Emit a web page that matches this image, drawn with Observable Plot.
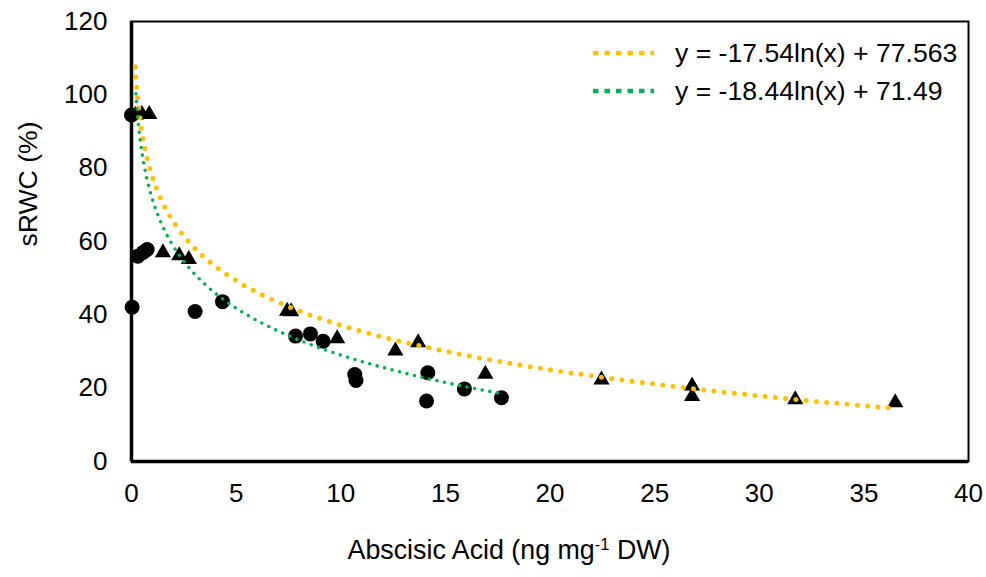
<!DOCTYPE html>
<html>
<head>
<meta charset="utf-8">
<script src="https://cdn.jsdelivr.net/npm/d3@7"></script>
<script src="https://cdn.jsdelivr.net/npm/@observablehq/plot@0.6"></script>
<style>
  body { margin: 0; background: #fff; font-family: "Liberation Sans", Arial, sans-serif; }
  #chart { position: relative; width: 986px; height: 577px; }
  .legend { position: absolute; left: 593px; top: 34px; }
  .legend .row { display: flex; align-items: center; height: 38px; }
  .legend svg { width: 82px; height: 38px; display: block; }
  .legend span { font-size: 26.6px; color: #000; white-space: nowrap; }
</style>
</head>
<body>
<div id="chart"></div>
<script>
// Abscisic acid content (ng mg-1 DW) vs. sRWC (%) for the two groups
const circleABA  = [0.0, 0.3, 0.55, 0.75, 0.03, 3.04, 4.35, 7.84, 8.55, 9.16, 10.67, 10.73, 14.16, 14.1, 15.91, 17.68];
const circleSRWC = [94.5, 56.0, 57.0, 57.8, 42.1, 40.9, 43.6, 34.2, 34.8, 32.8, 23.7, 22.1, 24.2, 16.5, 19.8, 17.4];

const triangleABA  = [0.2, 0.5, 0.85, 1.5, 2.28, 2.74, 7.44, 7.63, 9.83, 12.61, 13.7, 16.91, 22.46, 26.79, 26.79, 31.72, 36.5];
const triangleSRWC = [95.0, 95.2, 95.2, 57.5, 56.7, 55.7, 41.6, 41.4, 34.1, 30.7, 33.0, 24.4, 22.8, 21.2, 18.3, 17.4, 16.6];

// Logarithmic trendlines: y = slope * ln(x) + intercept, drawn over each group's x range
const trendLabels     = ["y = -17.54ln(x) + 77.563", "y = -18.44ln(x) + 71.49"];
const trendSlopes     = [-17.54, -18.44];
const trendIntercepts = [77.563, 71.49];
const trendRanges     = [[0.18, 36.3], [0.21, 17.7]];
const trendColors     = ["#FFC000", "#00B050"];

const xTicks = [0, 5, 10, 15, 20, 25, 30, 35, 40];
const yTicks = [0, 20, 40, 60, 80, 100, 120];

const circles   = circleABA.map((x, i) => ({x, y: circleSRWC[i]}));
const triangles = triangleABA.map((x, i) => ({x, y: triangleSRWC[i]}));

function trendPoints(k) {
  const [lo, hi] = trendRanges[k];
  const n = 600;
  const pts = [];
  for (let i = 0; i <= n; i++) {
    const x = lo * Math.pow(hi / lo, i / n);
    pts.push({x, y: trendSlopes[k] * Math.log(x) + trendIntercepts[k]});
  }
  return pts;
}

const xTitle = "Abscisic Acid (ng mg-1 DW)";

const chart = Plot.plot({
  width: 986,
  height: 577,
  marginLeft: 131,
  marginRight: 18,
  marginTop: 21,
  marginBottom: 116,
  style: {fontFamily: "'Liberation Sans', Arial, sans-serif", fontSize: "26px", color: "#000", background: "#fff"},
  x: {domain: [0, 40]},
  y: {domain: [0, 120]},
  marks: [
    Plot.axisY(yTicks, {tickSize: 0, tickPadding: 24, label: null, fontSize: 26}),
    Plot.axisX(xTicks, {tickSize: 0, tickPadding: 22, label: null, fontSize: 26}),
    Plot.frame({stroke: "#000", strokeWidth: 2}),
    Plot.ruleX([0], {stroke: "#000", strokeWidth: 3.5}),
    Plot.ruleY([0], {stroke: "#000", strokeWidth: 3.5}),
    Plot.dot(circles, {x: "x", y: "y", r: 7.5, fill: "#000", symbol: "circle"}),
    Plot.dot(triangles, {x: "x", y: "y", r: 6, fill: "#000", symbol: "triangle", dy: 2}),
    Plot.line(trendPoints(0), {x: "x", y: "y", stroke: trendColors[0], strokeWidth: 5, strokeDasharray: "0 10.3", strokeLinecap: "round"}),
    Plot.line(trendPoints(1), {x: "x", y: "y", stroke: trendColors[1], strokeWidth: 3.6, strokeDasharray: "0 7.7", strokeLinecap: "round"}),
    Plot.text(["sRWC (%)"], {frameAnchor: "left", text: d => d, rotate: -90, dx: -103, dy: 5, fontSize: 26.6, fill: "#000"}),
    Plot.text([xTitle], {frameAnchor: "bottom", text: d => d, dx: -41, dy: 97, fontSize: 26.8, fill: "#000"})
  ]
});

// Superscript the exponent in the x-axis title
d3.select(chart).selectAll("text").filter(function () { return this.textContent === xTitle; })
  .each(function () {
    const t = d3.select(this);
    t.text(null);
    t.append("tspan").text("Abscisic Acid (ng mg");
    t.append("tspan").attr("dy", "-9").attr("font-size", 16.5).text("-1");
    t.append("tspan").attr("dy", "9").text(" DW)");
  });

const host = document.getElementById("chart");
host.appendChild(chart);

// Legend for the two trendlines
const legend = d3.select(host).append("div").attr("class", "legend");
trendLabels.forEach((label, k) => {
  const row = legend.append("div").attr("class", "row");
  const sw = row.append("svg");
  sw.append("line")
    .attr("x1", 0).attr("x2", 61).attr("y1", 19).attr("y2", 19)
    .attr("stroke", trendColors[k]).attr("stroke-width", 4.5)
    .attr("stroke-dasharray", "5.5 6");
  row.append("span").text(label);
});
</script>
</body>
</html>
